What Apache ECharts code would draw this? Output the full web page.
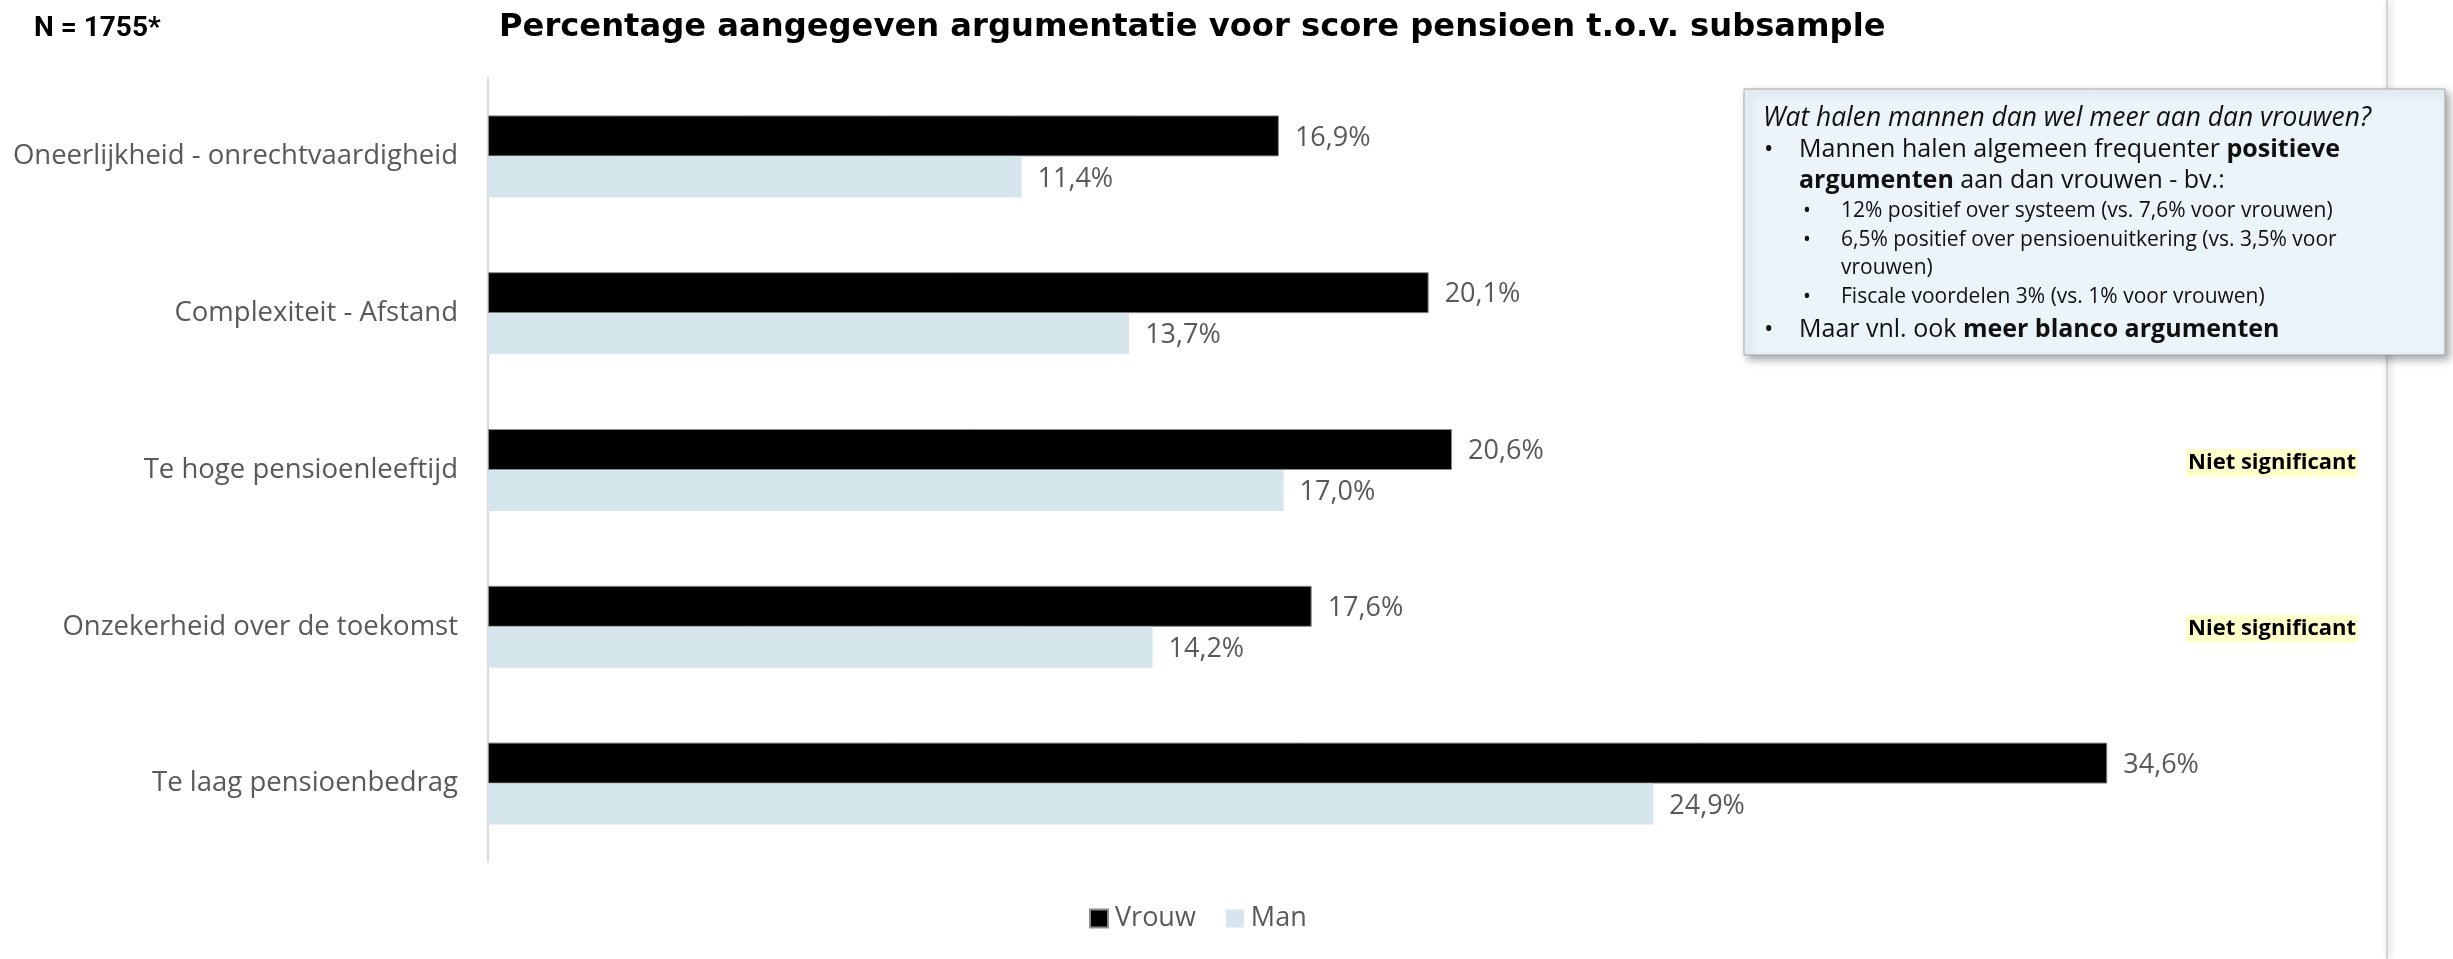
<!DOCTYPE html>
<html>
<head>
<meta charset="utf-8">
<script src="https://cdn.jsdelivr.net/npm/echarts@6/dist/echarts.min.js"></script>
<style>
  html, body { margin: 0; padding: 0; background: #fff; }
  #chart { width: 2453px; height: 959px; }
</style>
</head>
<body>
<div id="chart"></div>
<script>
// Reasons given for the pension score, women vs. men (share of respondents, %)
const categories = [
  'Oneerlijkheid - onrechtvaardigheid',
  'Complexiteit - Afstand',
  'Te hoge pensioenleeftijd',
  'Onzekerheid over de toekomst',
  'Te laag pensioenbedrag'
];
const vrouw = [16.9, 20.1, 20.6, 17.6, 34.6];
const man = [11.4, 13.7, 17.0, 14.2, 24.9];
const seriesNames = ['Vrouw', 'Man'];
// Categories flagged as not significantly different
const notSignificant = ['Te hoge pensioenleeftijd', 'Onzekerheid over de toekomst'];

const chart = echarts.init(document.getElementById('chart'));

const labelFont = '"Open Sans", "Noto Sans", sans-serif';
const fmt = v => v.toFixed(1).replace('.', ',') + '%';

const barLabel = {
  show: true,
  position: 'right',
  distance: 16,
  offset: [0, 2],
  color: '#595959',
  fontFamily: labelFont,
  fontSize: 27,
  formatter: p => fmt(p.value)
};

// Text box with the explanation on the right
const boxX = 1744, boxY = 89, boxW = 701, boxH = 266;
const boxLines = [
  { x: 1763, y: 118, text: '{i|Wat halen mannen dan wel meer aan dan vrouwen?}' },
  { x: 1764, y: 150, text: '{n|•}' },
  { x: 1799, y: 150, text: '{n|Mannen halen algemeen frequenter }{b|positieve}' },
  { x: 1799, y: 181, text: '{b|argumenten}{n| aan dan vrouwen - bv.:}' },
  { x: 1803, y: 211, text: '{s|•}' },
  { x: 1841, y: 211, text: '{s|12% positief over systeem (vs. 7,6% voor vrouwen)}' },
  { x: 1803, y: 240, text: '{s|•}' },
  { x: 1841, y: 240, text: '{s|6,5% positief over pensioenuitkering (vs. 3,5% voor}' },
  { x: 1841, y: 268, text: '{s|vrouwen)}' },
  { x: 1803, y: 297, text: '{s|•}' },
  { x: 1841, y: 297, text: '{s|Fiscale voordelen 3% (vs. 1% voor vrouwen)}' },
  { x: 1764, y: 330, text: '{n|•}' },
  { x: 1799, y: 330, text: '{n|Maar vnl. ook }{b|meer blanco argumenten}' }
];
const boxFont = '"Open Sans", "Noto Sans", sans-serif';
const rich = {
  i: { fontFamily: boxFont, fontSize: 26.4, fontStyle: 'italic', fill: '#111' },
  n: { fontFamily: boxFont, fontSize: 25, fill: '#111' },
  b: { fontFamily: boxFont, fontSize: 25, fontWeight: 'bold', fill: '#111' },
  s: { fontFamily: boxFont, fontSize: 21, fill: '#111' }
};

const graphics = [
  // slide edge on the right
  {
    type: 'rect',
    shape: { x: 2386, y: 0, width: 2, height: 959 },
    style: { fill: '#d4d4d4', shadowBlur: 6, shadowColor: 'rgba(0,0,0,0.25)', shadowOffsetX: 2 },
    z: 1
  },
  {
    type: 'rect',
    shape: { x: boxX, y: boxY, width: boxW, height: boxH },
    style: {
      fill: '#ebf4f8', stroke: '#a6a6a6', lineWidth: 1,
      shadowBlur: 8, shadowOffsetX: 4, shadowOffsetY: 4, shadowColor: 'rgba(0,0,0,0.35)'
    },
    z: 10
  }
];
boxLines.forEach(l => {
  graphics.push({
    type: 'text', x: l.x, y: l.y, z: 11,
    style: { text: l.text, rich: rich, verticalAlign: 'middle', align: 'left' }
  });
});

chart.setOption({
  backgroundColor: '#ffffff',
  animation: false,
  title: [
    {
      text: 'Percentage aangegeven argumentatie voor score pensioen t.o.v. subsample',
      left: 494, top: 7,
      textStyle: { fontFamily: '"DejaVu Sans", sans-serif', fontWeight: 'bold', fontSize: 32.2, color: '#000' }
    },
    {
      text: 'N = 1755*',
      left: 29, top: 10,
      textStyle: { fontFamily: 'Roboto, sans-serif', fontWeight: 'bold', fontSize: 28, color: '#000' }
    }
  ],
  legend: {
    data: seriesNames,
    bottom: 22,
    left: 1084,
    itemWidth: 18, itemHeight: 18, itemGap: 30,
    icon: 'rect',
    textStyle: { fontFamily: labelFont, fontSize: 27, color: '#595959', padding: [0, 0, 0, 2] }
  },
  grid: { left: 488, top: 78, width: 1872, height: 784, containLabel: false },
  xAxis: {
    type: 'value', min: 0, max: 40,
    show: false
  },
  yAxis: {
    type: 'category',
    data: categories,
    inverse: true,
    axisLine: { show: true, lineStyle: { color: '#d9d9d9', width: 2 } },
    axisTick: { show: false },
    axisLabel: { margin: 30, color: '#595959', fontFamily: labelFont, fontSize: 27.5 }
  },
  series: [
    {
      name: seriesNames[0], type: 'bar', data: vrouw,
      barWidth: 41, barGap: '0%',
      itemStyle: { color: '#000000', borderColor: '#8c8c8c', borderWidth: 1 },
      label: barLabel
    },
    {
      name: seriesNames[1], type: 'bar', data: man,
      barWidth: 41, barGap: '0%',
      itemStyle: { color: '#d5e7ed' },
      label: barLabel
    }
  ],
  graphic: graphics
});

// "Niet significant" notes, placed next to their category rows
const noteShift = [-7, 2];
notSignificant.forEach((c, i) => {
  const y = chart.convertToPixel({ yAxisIndex: 0 }, c);
  graphics.push({
    type: 'text', x: 2358, y: y + noteShift[i], z: 5,
    style: {
      text: 'Niet significant', align: 'right', verticalAlign: 'middle',
      fontFamily: labelFont, fontWeight: 'bold', fontSize: 22, fill: '#000',
      backgroundColor: '#ffffcc', padding: [3, 2, 3, 2]
    }
  });
});
chart.setOption({ graphic: graphics });
</script>
</body>
</html>
